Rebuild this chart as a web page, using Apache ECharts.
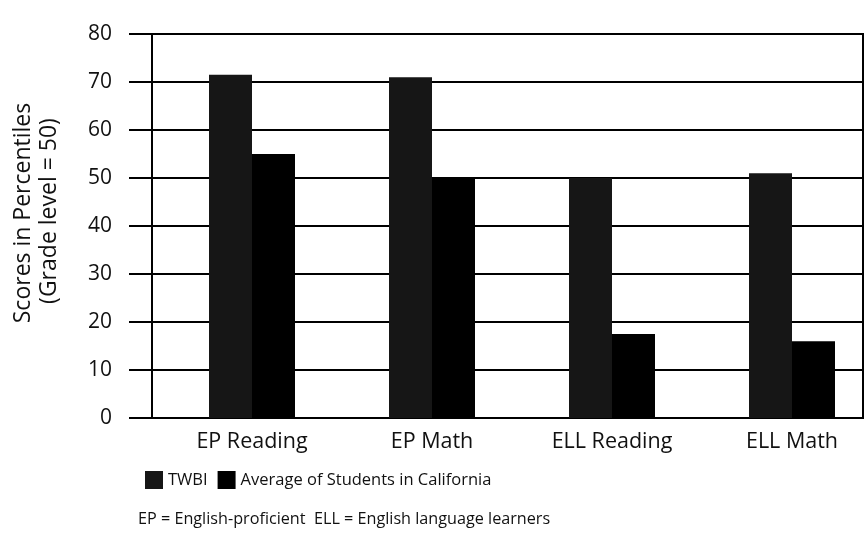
<!DOCTYPE html>
<html>
<head>
<meta charset="utf-8">
<script src="https://cdn.jsdelivr.net/npm/echarts@6/dist/echarts.min.js"></script>
<style>html,body{margin:0;padding:0;background:#fff;overflow:hidden;width:866px;height:533px}#c{width:892px;height:533px}</style>
</head>
<body>
<div id="c"></div>
<script>
var categories = ['EP Reading', 'EP Math', 'ELL Reading', 'ELL Math'];
var twbi = [71.5, 71, 50, 51];
var california = [55, 50, 17.5, 16];
var seriesNames = ['TWBI', 'Average of Students in California'];
var yTicks = [0, 10, 20, 30, 40, 50, 60, 70, 80];

var FONT = '"Open Sans", "Noto Sans", sans-serif';
var chart = echarts.init(document.getElementById('c'));
chart.setOption({
  backgroundColor: '#fff',
  animation: false,
  textStyle: { fontFamily: FONT, color: '#111' },
  grid: [
    { left: 152, width: 711, top: 34, bottom: 115, show: true, borderColor: '#000', borderWidth: 2, backgroundColor: 'transparent' },
    { left: 162, width: 720, top: 34, bottom: 115 }
  ],
  xAxis: [
    { type: 'category', gridIndex: 0, data: categories, show: true,
      axisLine: { show: true, lineStyle: { color: '#000', width: 2 } },
      axisTick: { show: false }, axisLabel: { show: false } },
    { type: 'category', gridIndex: 1, data: categories,
      axisLine: { show: false }, axisTick: { show: false },
      axisLabel: { fontSize: 21.5, color: '#111', margin: 13, fontFamily: FONT } }
  ],
  yAxis: [
    { type: 'value', gridIndex: 0, min: yTicks[0], max: yTicks[yTicks.length - 1], interval: 10,
      axisLine: { show: true, lineStyle: { color: '#000', width: 2 } },
      axisTick: { show: true, length: 23, lineStyle: { color: '#000', width: 2 } },
      axisLabel: { fontSize: 21, color: '#111', margin: 40, fontFamily: FONT },
      splitLine: { show: true, lineStyle: { color: '#000', width: 2 } } },
    { type: 'value', gridIndex: 1, min: yTicks[0], max: yTicks[yTicks.length - 1], interval: 10, show: false,
      splitLine: { show: false } }
  ],
  legend: {
    data: seriesNames, left: 140, top: 466, itemWidth: 18, itemHeight: 18, itemGap: 10,
    icon: 'rect', textStyle: { fontSize: 16.5, color: '#111', fontFamily: FONT, padding: [0, 0, 0, 0] }
  },
  series: [
    { name: seriesNames[0], type: 'bar', xAxisIndex: 1, yAxisIndex: 1, data: twbi,
      barWidth: 43, barGap: '0%', itemStyle: { color: '#161616' } },
    { name: seriesNames[1], type: 'bar', xAxisIndex: 1, yAxisIndex: 1, data: california,
      barWidth: 43, barGap: '0%', itemStyle: { color: '#000' } }
  ],
  graphic: [
    { type: 'text', x: 23, y: 213, rotation: Math.PI / 2,
      style: { text: 'Scores in Percentiles', font: '23px ' + FONT, fill: '#111', textAlign: 'center', textVerticalAlign: 'middle' } },
    { type: 'text', x: 49, y: 211, rotation: Math.PI / 2,
      style: { text: '(Grade level = 50)', font: '23px ' + FONT, fill: '#111', textAlign: 'center', textVerticalAlign: 'middle' } },
    { type: 'text', x: 138, y: 519,
      style: { text: 'EP = English-proficient  ELL = English language learners', font: '16.2px ' + FONT, fill: '#111', textAlign: 'left', textVerticalAlign: 'middle' } }
  ]
});
</script>
</body>
</html>
